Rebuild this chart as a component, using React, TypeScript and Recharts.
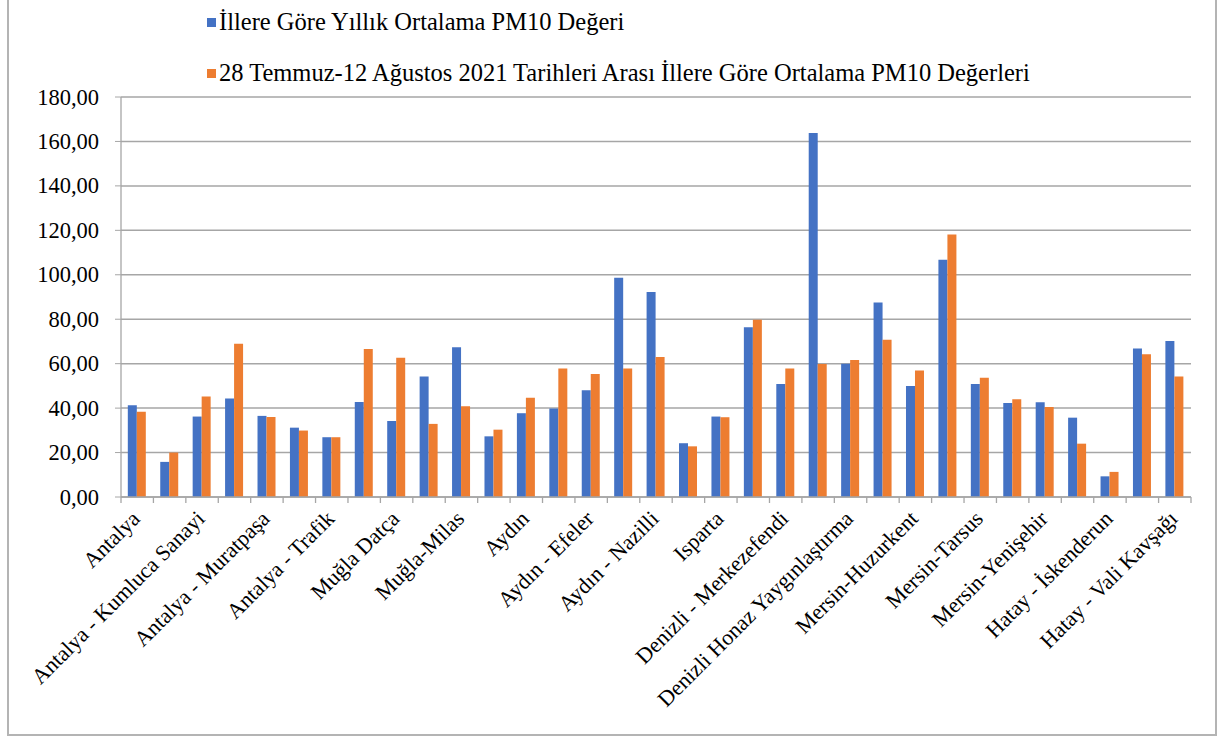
import React from 'react';
import { BarChart, Bar, XAxis, YAxis, CartesianGrid } from 'recharts';

const CATEGORIES = [
  'Antalya', 'Antalya - Kepez', 'Antalya - Kumluca Sanayi', 'Antalya - Manavgat', 'Antalya - Muratpaşa',
  'Antalya - Alanya', 'Antalya - Trafik', 'Muğla', 'Muğla Datça', 'Muğla-Marmaris', 'Muğla-Milas',
  'Muğla-Yatağan', 'Aydın', 'Aydın - Didim', 'Aydın - Efeler', 'Aydın - Söke', 'Aydın - Nazilli',
  'Isparta - Merkez', 'Isparta', 'Denizli', 'Denizli - Merkezefendi', 'Denizli - Honaz',
  'Denizli Honaz Yaygınlaştırma', 'Mersin', 'Mersin-Huzurkent', 'Mersin-Silifke', 'Mersin-Tarsus',
  'Mersin-Erdemli', 'Mersin-Yenişehir', 'Hatay', 'Hatay - İskenderun', 'Hatay - Antakya',
  'Hatay - Vali Kavşağı',
];

const YILLIK = [
  41.3, 15.8, 36.2, 44.3, 36.5, 31.2, 26.9, 42.8, 34.2, 54.2, 67.4,
  27.3, 37.7, 39.8, 48.0, 98.7, 92.3, 24.2, 36.2, 76.4, 50.9, 163.8,
  60.0, 87.5, 50.0, 106.8, 50.9, 42.3, 42.6, 35.7, 9.3, 66.8, 70.2,
];

const TEMMUZ_AGUSTOS = [
  38.4, 20.0, 45.2, 69.0, 36.0, 29.9, 26.9, 66.6, 62.7, 32.9, 40.8,
  30.3, 44.7, 57.8, 55.4, 57.8, 63.0, 22.8, 35.9, 79.8, 57.8, 59.9,
  61.7, 70.8, 56.9, 118.1, 53.7, 44.0, 40.5, 24.0, 11.3, 64.2, 54.2,
];

const SERIES = [
  { key: 'yillik', name: 'İllere Göre Yıllık Ortalama PM10 Değeri', color: '#4472C4' },
  { key: 'donem', name: '28 Temmuz-12 Ağustos 2021 Tarihleri Arası İllere Göre Ortalama PM10 Değerleri', color: '#ED7D31' },
];

const Y_TICKS = [0, 20, 40, 60, 80, 100, 120, 140, 160, 180];

const data = CATEGORIES.map((navn, i) => ({ navn, yillik: YILLIK[i], donem: TEMMUZ_AGUSTOS[i] }));

const W = 1227;
const H = 740;
const Y_AXIS_W = 121;
const MARGIN_RIGHT = 36;
const BAND = (W - Y_AXIS_W - MARGIN_RIGHT) / CATEGORIES.length;
const FONT = "'Times New Roman', 'Liberation Serif', serif";
const GRID = '#a6a6a6';

// tick marks sit between categories; only every other name is written
function XTick(props: any) {
  const { x, y, index, payload } = props;
  const left = x - BAND / 2;
  const axisY = y - 8;
  return (
    <g>
      <line x1={left} y1={axisY} x2={left} y2={axisY + 6} stroke={GRID} strokeWidth={1.3} />
      {index === CATEGORIES.length - 1 && (
        <line x1={x + BAND / 2} y1={axisY} x2={x + BAND / 2} y2={axisY + 6} stroke={GRID} strokeWidth={1.3} />
      )}
      {index % 2 === 0 && (
        <text
          x={x + 4}
          y={y + 15}
          textAnchor="end"
          transform={`rotate(-45, ${x + 4}, ${y + 15})`}
          style={{ fontSize: 22, fontFamily: FONT, fill: '#000' }}
        >
          {payload.value}
        </text>
      )}
    </g>
  );
}

function YTick(props: any) {
  const { x, y, payload } = props;
  return (
    <text x={x} y={y} dy={7.5} textAnchor="end" style={{ fontSize: 22.5, fontFamily: FONT, fill: '#000' }}>
      {Number(payload.value).toFixed(2).replace('.', ',')}
    </text>
  );
}

export default function App() {
  return (
    <div style={{ position: 'absolute', left: 0, top: 0, width: W, height: H, background: '#fff', overflow: 'hidden' }}>
      <div style={{ position: 'absolute', left: 7, top: -3, width: 1210, height: 739, border: '2px solid #b4b4b4', boxSizing: 'border-box' }} />

      {/* legend */}
      <div style={{ position: 'absolute', left: 207, top: 8, fontSize: 24.5, fontFamily: FONT, color: '#000', lineHeight: '28px' }}>
        {SERIES.map((s, i) => (
          <div key={s.key} style={{ display: 'flex', alignItems: 'center', marginBottom: i === 0 ? 23 : 0, whiteSpace: 'nowrap' }}>
            <span style={{ display: 'inline-block', width: 9, height: 9, background: s.color, marginRight: 3 }} />
            <span>{s.name}</span>
          </div>
        ))}
      </div>

      <div style={{ position: 'absolute', left: 0, top: 0 }}>
        <BarChart
          width={W}
          height={H}
          data={data}
          margin={{ top: 97, right: MARGIN_RIGHT, left: 0, bottom: 0 }}
          barCategoryGap="21%"
          barGap={0}
        >
          <CartesianGrid horizontal vertical={false} stroke={GRID} strokeWidth={1.5} />
          <XAxis
            dataKey="navn"
            interval={0}
            height={243}
            tickLine={false}
            axisLine={{ stroke: GRID, strokeWidth: 1.3 }}
            tick={<XTick />}
          />
          <YAxis
            width={Y_AXIS_W}
            domain={[0, 180]}
            ticks={Y_TICKS}
            interval={0}
            tickSize={6}
            tickMargin={16}
            tickLine={{ stroke: GRID }}
            axisLine={{ stroke: GRID, strokeWidth: 1.3 }}
            tick={<YTick />}
          />
          {SERIES.map((s) => (
            <Bar key={s.key} dataKey={s.key} name={s.name} fill={s.color} isAnimationActive={false} />
          ))}
        </BarChart>
      </div>
    </div>
  );
}
